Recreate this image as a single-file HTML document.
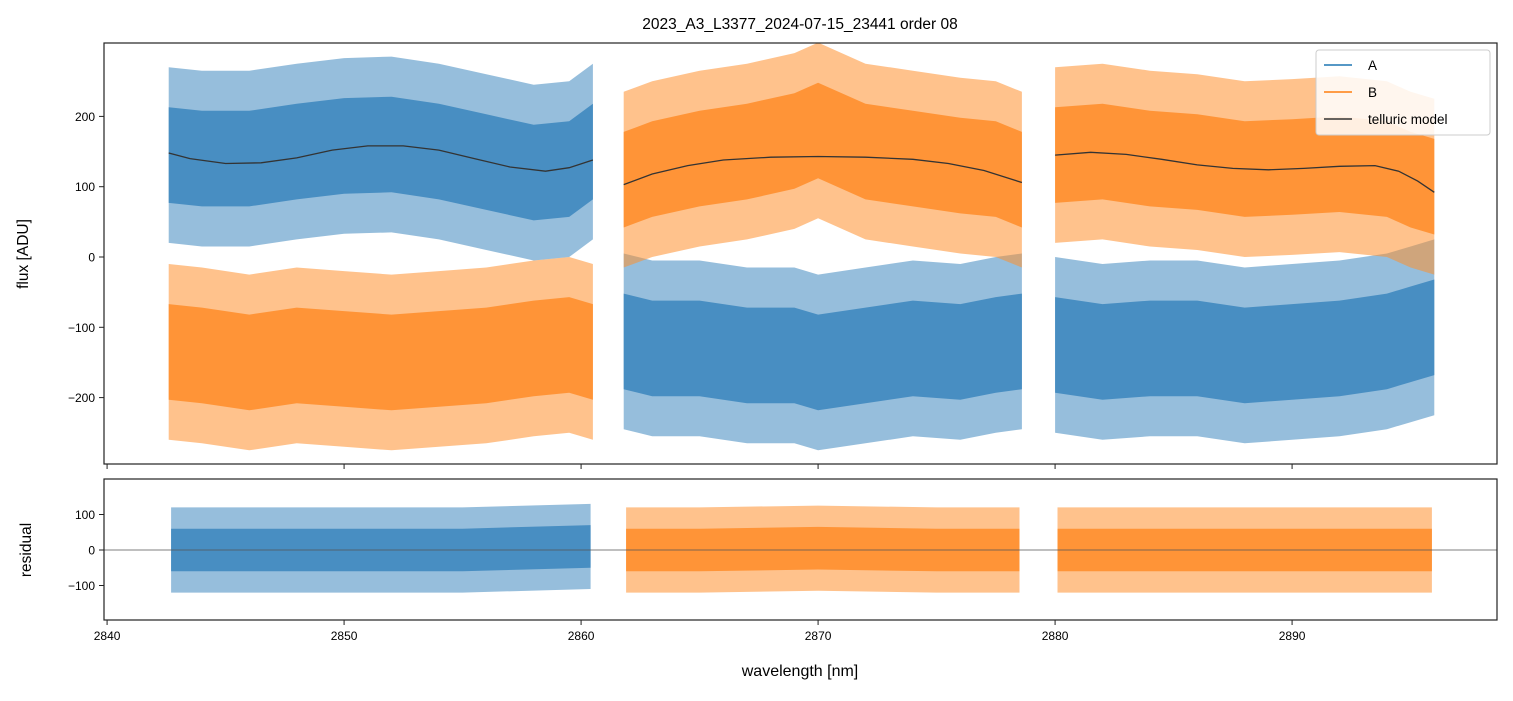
<!DOCTYPE html>
<html><head><meta charset="utf-8"><style>
body{margin:0;background:#fff;}
svg text{font-family:"Liberation Sans","DejaVu Sans",sans-serif;fill:#000;}
</style></head><body>
<svg id="chart" width="1513" height="696" viewBox="0 0 1513 696" xmlns="http://www.w3.org/2000/svg">
<text x="800" y="29" font-size="15.5" text-anchor="middle">2023_A3_L3377_2024-07-15_23441  order 08</text>
<defs>
<clipPath id="clipTop"><rect x="104" y="43" width="1393" height="421"/></clipPath>
<clipPath id="clipBot"><rect x="104" y="479" width="1393" height="141"/></clipPath>
</defs>
<g id="topMarks" clip-path="url(#clipTop)"></g>
<g id="botMarks" clip-path="url(#clipBot)"></g>
<rect x="104" y="43" width="1393" height="421" fill="none" stroke="#222" stroke-width="1.2"/>
<rect x="104" y="479" width="1393" height="141" fill="none" stroke="#222" stroke-width="1.2"/>
<g id="axes"></g>
<text transform="translate(28,254) rotate(-90)" font-size="15.5" text-anchor="middle">flux [ADU]</text>
<text transform="translate(31,550) rotate(-90)" font-size="15.5" text-anchor="middle">residual</text>
<text x="800" y="676" font-size="16" text-anchor="middle">wavelength [nm]</text>
<g>
<rect x="1316" y="50" width="174" height="85" rx="3" fill="#fff" fill-opacity="0.85" stroke="#ccc"/>
<line x1="1324" y1="65" x2="1352" y2="65" stroke="#1f77b4" stroke-width="1.5"/>
<text x="1368" y="70" font-size="13.5">A</text>
<line x1="1324" y1="92" x2="1352" y2="92" stroke="#ff7f0e" stroke-width="1.5"/>
<text x="1368" y="97" font-size="13.5">B</text>
<line x1="1324" y1="119" x2="1352" y2="119" stroke="#333" stroke-width="1.5"/>
<text x="1368" y="124" font-size="13.5">telluric model</text>
</g>
</svg>
<script>
// ---- data ----
const xTicks = [2840, 2850, 2860, 2870, 2880, 2890];
const yTicksTop = [200, 100, 0, -100, -200];
const yTicksTopLabels = ["200", "100", "0", "\u2212100", "\u2212200"];
const yTicksBot = [100, 0, -100];
const yTicksBotLabels = ["100", "0", "\u2212100"];

// segment 1 (2842.6 - 2860.5): A on top, B below
const seg1X = [2842.6, 2844, 2846, 2848, 2850, 2852, 2854, 2856, 2858, 2859.5, 2860.5];
const seg1ACenter = [145, 140, 140, 150, 158, 160, 150, 135, 120, 125, 150];
const seg1BCenter = [-135, -140, -150, -140, -145, -150, -145, -140, -130, -125, -135];
// segment 2 (2861.8 - 2878.6): B on top, A below
const seg2X = [2861.8, 2863, 2865, 2867, 2869, 2870, 2872, 2874, 2876, 2877.5, 2878.6];
const seg2BCenter = [110, 125, 140, 150, 165, 180, 150, 140, 130, 125, 110];
const seg2ACenter = [-120, -130, -130, -140, -140, -150, -140, -130, -135, -125, -120];
// segment 3 (2880 - 2896): B on top, A below
const seg3X = [2880, 2882, 2884, 2886, 2888, 2890, 2892, 2894, 2895, 2896];
const seg3BCenter = [145, 150, 140, 135, 125, 128, 132, 125, 110, 100];
const seg3ACenter = [-125, -135, -130, -130, -140, -135, -130, -120, -110, -100];
const coreHalf = 68;
const outerHalf = 125;

// telluric model
const tell1X = [2842.6, 2843.5, 2845, 2846.5, 2848, 2849.5, 2851, 2852.5, 2854, 2855.5, 2857, 2858.5, 2859.5, 2860.5];
const tell1Y = [148, 140, 133, 134, 141, 152, 158, 158, 152, 140, 128, 122, 127, 138];
const tell2X = [2861.8, 2863, 2864.5, 2866, 2868, 2870, 2872, 2874, 2875.5, 2877, 2878.6];
const tell2Y = [103, 118, 130, 138, 142, 143, 142, 139, 133, 123, 106];
const tell3X = [2880, 2881.5, 2883, 2884.5, 2886, 2887.5, 2889, 2890.5, 2892, 2893.5, 2894.5, 2895.3, 2896];
const tell3Y = [145, 149, 146, 139, 131, 126, 124, 126, 129, 130, 122, 108, 92];

// residuals
const res1X = [2842.7, 2845, 2850, 2855, 2860.4];
const res1Center = [0, 0, 0, 0, 10];
const res2X = [2861.9, 2865, 2870, 2875, 2878.5];
const res2Center = [0, 0, 5, 0, 0];
const res3X = [2880.1, 2885, 2890, 2895.9];
const res3Center = [0, 0, 0, 0];
const resCore = 60;
const resOuter = 120;

// ---- axes functions ----
const X0 = 2839.87, PXN = 23.7, XL = 104;
function sx(v){ return XL + (v - X0) * PXN; }
function syTop(v){ return 257 - v * 0.703; }
function syBot(v){ return 550 - v * 0.355; }

const NS = "http://www.w3.org/2000/svg";
const topG = document.getElementById('topMarks');
const botG = document.getElementById('botMarks');
const axG = document.getElementById('axes');

function bandPath(xs, cs, half, sy){
  let up = xs.map((x,i)=>sx(x).toFixed(1)+","+sy(cs[i]+half).toFixed(1));
  let dn = xs.map((x,i)=>sx(x).toFixed(1)+","+sy(cs[i]-half).toFixed(1)).reverse();
  return "M"+up.join("L")+"L"+dn.join("L")+"Z";
}
function addBand(g, xs, cs, color, sy, core, outer, name){
  const p1 = document.createElementNS(NS,'path');
  p1.setAttribute('d', bandPath(xs, cs, outer, sy));
  p1.setAttribute('fill', color);
  p1.setAttribute('fill-opacity', '0.55');
  
  
  g.appendChild(p1);
  const p2 = document.createElementNS(NS,'path');
  p2.setAttribute('d', bandPath(xs, cs, core, sy));
  p2.setAttribute('fill', color);
  p2.setAttribute('fill-opacity', '0.9');
  
  
  g.appendChild(p2);
}
function addLine(g, xs, ys, sy, color, w, name){
  const p = document.createElementNS(NS,'path');
  p.setAttribute('d', "M"+xs.map((x,i)=>sx(x).toFixed(1)+","+sy(ys[i]).toFixed(1)).join("L"));
  p.setAttribute('fill','none');
  p.setAttribute('stroke',color);
  p.setAttribute('stroke-width',w);
  
  
  g.appendChild(p);
}
const BLUE = "#3f88bf", ORANGE = "#ff8f2e";
addBand(topG, seg1X, seg1BCenter, ORANGE, syTop, coreHalf, outerHalf, 'series-b-seg1');
addBand(topG, seg1X, seg1ACenter, BLUE, syTop, coreHalf, outerHalf, 'series-a-seg1');
addBand(topG, seg2X, seg2ACenter, BLUE, syTop, coreHalf, outerHalf, 'series-a-seg2');
addBand(topG, seg2X, seg2BCenter, ORANGE, syTop, coreHalf, outerHalf, 'series-b-seg2');
addBand(topG, seg3X, seg3ACenter, BLUE, syTop, coreHalf, outerHalf, 'series-a-seg3');
addBand(topG, seg3X, seg3BCenter, ORANGE, syTop, coreHalf, outerHalf, 'series-b-seg3');
addLine(topG, tell1X, tell1Y, syTop, '#333', 1.3, 'telluric-seg1');
addLine(topG, tell2X, tell2Y, syTop, '#333', 1.3, 'telluric-seg2');
addLine(topG, tell3X, tell3Y, syTop, '#333', 1.3, 'telluric-seg3');

addBand(botG, res1X, res1Center, BLUE, syBot, resCore, resOuter, 'residual-a-seg1');
addBand(botG, res2X, res2Center, ORANGE, syBot, resCore, resOuter, 'residual-b-seg2');
addBand(botG, res3X, res3Center, ORANGE, syBot, resCore, resOuter, 'residual-b-seg3');
const zl = document.createElementNS(NS,'line');
zl.setAttribute('x1',104); zl.setAttribute('x2',1497);
zl.setAttribute('y1',syBot(0)); zl.setAttribute('y2',syBot(0));
zl.setAttribute('stroke','#555'); zl.setAttribute('stroke-width','0.7');


botG.appendChild(zl);

function tick(x1,y1,x2,y2){
  const l = document.createElementNS(NS,'line');
  l.setAttribute('x1',x1); l.setAttribute('y1',y1); l.setAttribute('x2',x2); l.setAttribute('y2',y2);
  l.setAttribute('stroke','#222'); l.setAttribute('stroke-width','1');
  
  
  axG.appendChild(l);
}
function label(x,y,txt,anchor,name){
  const t = document.createElementNS(NS,'text');
  t.setAttribute('x',x); t.setAttribute('y',y); t.setAttribute('font-size','12');
  t.setAttribute('text-anchor',anchor);
  t.textContent = txt;
  
  
  axG.appendChild(t);
}
xTicks.forEach(v=>{
  const x = sx(v);
  tick(x,464,x,469);
  tick(x,620,x,625);
  label(x,640,String(v),'middle','x-tick-label');
});
yTicksTop.forEach((v,i)=>{
  const y = syTop(v);
  tick(99,y,104,y);
  label(95,y+4.5,yTicksTopLabels[i],'end','y-tick-label');
});
yTicksBot.forEach((v,i)=>{
  const y = syBot(v);
  tick(99,y,104,y);
  label(95,y+4.5,yTicksBotLabels[i],'end','residual-tick-label');
});
</script>
</body></html>
